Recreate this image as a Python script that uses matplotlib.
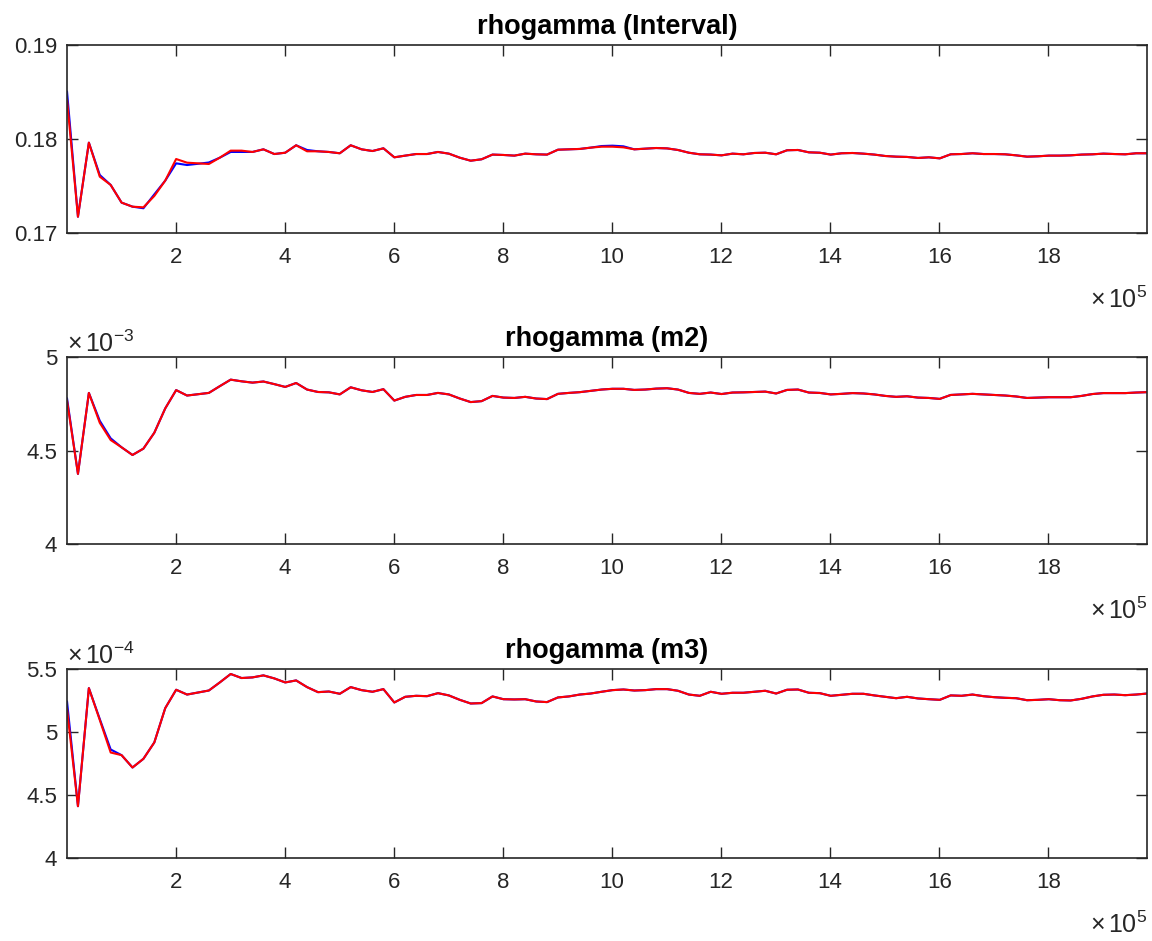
import numpy as np
import matplotlib
matplotlib.use('Agg')
import matplotlib.pyplot as plt
from matplotlib.ticker import FuncFormatter

plt.rcParams['font.family'] = ['Liberation Sans', 'DejaVu Sans']
plt.rcParams['mathtext.fontset'] = 'custom'
plt.rcParams['mathtext.rm'] = 'Liberation Sans'
plt.rcParams['mathtext.it'] = 'Liberation Sans'

# sample counts (every 20000 draws)
nsamp = np.arange(1000, 1990000, 20000)

# rhogamma, interval estimate
rg_int_red = [0.18415, 0.17173, 0.17961, 0.17599, 0.17511, 0.17323, 0.17280, 0.17273, 0.17394, 0.17557,
              0.17787, 0.17748, 0.17741, 0.17734, 0.17801, 0.17876, 0.17876, 0.17862, 0.17890, 0.17840,
              0.17854, 0.17933, 0.17869, 0.17869, 0.17862, 0.17848, 0.17933, 0.17890, 0.17872, 0.17901,
              0.17805, 0.17823, 0.17840, 0.17840, 0.17862, 0.17844, 0.17801, 0.17769, 0.17784, 0.17834,
              0.17830, 0.17823, 0.17844, 0.17837, 0.17834, 0.17886, 0.17890, 0.17894, 0.17908, 0.17918,
              0.17918, 0.17911, 0.17890, 0.17897, 0.17904, 0.17900, 0.17883, 0.17854, 0.17837, 0.17834,
              0.17826, 0.17844, 0.17837, 0.17851, 0.17854, 0.17837, 0.17880, 0.17883, 0.17858, 0.17854,
              0.17834, 0.17848, 0.17851, 0.17844, 0.17834, 0.17819, 0.17812, 0.17809, 0.17798, 0.17805,
              0.17794, 0.17837, 0.17840, 0.17848, 0.17840, 0.17840, 0.17837, 0.17826, 0.17812, 0.17816,
              0.17823, 0.17823, 0.17826, 0.17834, 0.17837, 0.17844, 0.17840, 0.17837, 0.17848, 0.17848]
rg_int_blue = list(rg_int_red)
rg_int_blue[0] = 0.18503
rg_int_blue[3] = 0.17617
rg_int_blue[7] = 0.17263
rg_int_blue[8] = 0.17411
rg_int_blue[10] = 0.17741
rg_int_blue[11] = 0.17723
rg_int_blue[12] = 0.17736
rg_int_blue[13] = 0.17750
rg_int_blue[15] = 0.17862
rg_int_blue[16] = 0.17862
rg_int_blue[22] = 0.17883
rg_int_blue[49] = 0.17925
rg_int_blue[50] = 0.17929
rg_int_blue[51] = 0.17922

# rhogamma, second moment (x 1e-3)
rg_m2_red = [4.766, 4.375, 4.808, 4.648, 4.556, 4.517, 4.476, 4.510, 4.595, 4.725,
             4.823, 4.794, 4.801, 4.808, 4.844, 4.879, 4.870, 4.863, 4.869, 4.855,
             4.840, 4.861, 4.826, 4.813, 4.811, 4.800, 4.838, 4.822, 4.813, 4.828,
             4.767, 4.787, 4.797, 4.797, 4.808, 4.800, 4.778, 4.759, 4.764, 4.792,
             4.783, 4.781, 4.787, 4.778, 4.775, 4.803, 4.808, 4.812, 4.819, 4.826,
             4.830, 4.830, 4.824, 4.826, 4.831, 4.833, 4.826, 4.808, 4.803, 4.810,
             4.802, 4.810, 4.811, 4.813, 4.815, 4.805, 4.824, 4.826, 4.810, 4.808,
             4.800, 4.803, 4.807, 4.805, 4.800, 4.792, 4.787, 4.790, 4.783, 4.781,
             4.776, 4.797, 4.800, 4.803, 4.800, 4.797, 4.794, 4.789, 4.781, 4.783,
             4.785, 4.785, 4.785, 4.792, 4.802, 4.807, 4.807, 4.807, 4.810, 4.812]
rg_m2_blue = list(rg_m2_red)
rg_m2_blue[0] = 4.778
rg_m2_blue[3] = 4.659
rg_m2_blue[4] = 4.565

# rhogamma, third moment (x 1e-4)
rg_m3_red = [5.181, 4.411, 5.348, 5.095, 4.837, 4.816, 4.718, 4.787, 4.917, 5.189,
             5.335, 5.297, 5.313, 5.329, 5.393, 5.460, 5.428, 5.433, 5.449, 5.425,
             5.393, 5.409, 5.356, 5.316, 5.321, 5.303, 5.356, 5.332, 5.319, 5.340,
             5.234, 5.279, 5.287, 5.284, 5.308, 5.290, 5.255, 5.226, 5.229, 5.282,
             5.260, 5.258, 5.260, 5.242, 5.237, 5.274, 5.282, 5.297, 5.305, 5.319,
             5.332, 5.337, 5.329, 5.332, 5.340, 5.340, 5.327, 5.297, 5.287, 5.319,
             5.303, 5.311, 5.311, 5.319, 5.327, 5.305, 5.335, 5.337, 5.311, 5.308,
             5.287, 5.295, 5.303, 5.303, 5.290, 5.279, 5.268, 5.279, 5.266, 5.260,
             5.255, 5.290, 5.287, 5.297, 5.284, 5.276, 5.271, 5.268, 5.252, 5.255,
             5.260, 5.252, 5.250, 5.263, 5.282, 5.295, 5.297, 5.292, 5.297, 5.305]
rg_m3_blue = list(rg_m3_red)
rg_m3_blue[0] = 5.241
rg_m3_blue[3] = 5.103
rg_m3_blue[4] = 4.861

titles = ['rhogamma (Interval)', 'rhogamma (m2)', 'rhogamma (m3)']
scales = [1.0, 1e-3, 1e-4]
exps = [None, -3, -4]
ylims = [(0.17, 0.19), (4e-3, 5e-3), (4e-4, 5.5e-4)]
yticks = [[0.17, 0.18, 0.19], [4.0, 4.5, 5.0], [4.0, 4.5, 5.0, 5.5]]
series = [(rg_int_blue, rg_int_red), (rg_m2_blue, rg_m2_red), (rg_m3_blue, rg_m3_red)]

axcol = '#262626'
fig = plt.figure(figsize=(11.52, 9.41), dpi=100)
bottoms = [0.7524, 0.4219, 0.0882]
heights = [0.1998, 0.1987, 0.2009]

for k in range(3):
    ax = fig.add_axes([0.0582, bottoms[k], 0.9375, heights[k]])
    sc = scales[k]
    blue = np.array(series[k][0]) * sc
    red = np.array(series[k][1]) * sc
    ax.plot(nsamp, blue, color='b', lw=1.5)
    ax.plot(nsamp, red, color='r', lw=1.5)
    ax.set_xlim(nsamp[0], nsamp[-1])
    ax.set_ylim(*ylims[k])
    ax.set_xticks(np.arange(2e5, 19e5, 2e5))
    ax.set_yticks(np.array(yticks[k]) * sc)
    ax.xaxis.set_major_formatter(FuncFormatter(lambda v, p: '%g' % round(v / 1e5, 6)))
    if k == 0:
        ax.yaxis.set_major_formatter(FuncFormatter(lambda v, p: '%g' % round(v, 6)))
    else:
        ax.yaxis.set_major_formatter(FuncFormatter(lambda v, p, s=sc: '%g' % round(v / s, 6)))
    ax.tick_params(direction='in', length=8, width=1.0, colors=axcol, labelsize=16,
                   top=True, right=True, pad=7)
    ax.tick_params(axis='x', pad=10)
    for sp in ax.spines.values():
        sp.set_color(axcol)
        sp.set_linewidth(1.2)
    ax.set_title(titles[k], fontsize=19.5, fontweight='bold', pad=8)
    ax.text(1.0, -0.355, r'$\times\,10^{5}$', transform=ax.transAxes, ha='right', va='center',
            fontsize=18, color=axcol)
    if exps[k] is not None:
        ax.text(0.0, 1.0, r'$\times\,10^{%d}$' % exps[k], transform=ax.transAxes, ha='left',
                va='bottom', fontsize=18, color=axcol)

fig.savefig('out.png', dpi=100)
